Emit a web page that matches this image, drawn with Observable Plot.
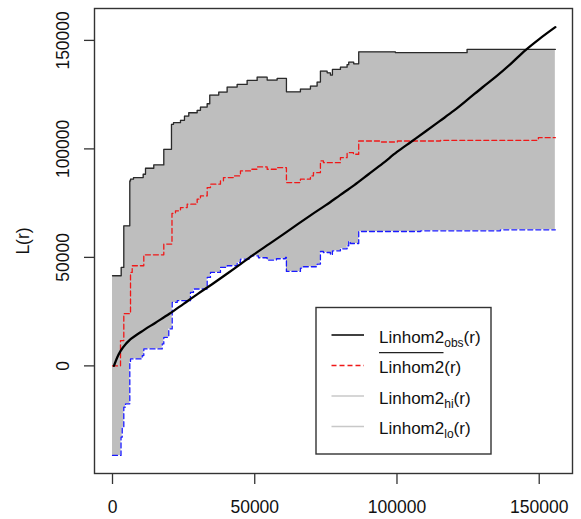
<!DOCTYPE html>
<html><head><meta charset="utf-8">
<script src="https://cdn.jsdelivr.net/npm/d3@7"></script>
<script src="https://cdn.jsdelivr.net/npm/@observablehq/plot@0.6"></script>
<style>
body{margin:0;background:#fff}
#chart{position:relative;width:581px;height:519px;font-family:"Liberation Sans",Arial,sans-serif}
#chart svg{position:absolute;left:0;top:0}
</style>
</head><body><div id="chart"></div>
<script>
// tick labels
const xTicks = [0, 50000, 100000, 150000];
const yTicks = [0, 50000, 100000, 150000];
const rEnd = 155670;

// upper envelope (hi), step function
const hiR = [0, 3060, 3970, 6080, 6330, 7380, 10790, 11600, 14510, 18030, 20730, 21440, 23900, 25300, 26810, 29760, 30920, 33280, 34190, 37350, 40300, 43820, 47330, 50850, 54360, 57880, 61140, 66060, 69580, 71930, 73090, 75450, 76600, 77310, 80120, 82470, 83040, 84790, 86550, 99450, 124650];
const hiV = [41540, 45360, 64540, 85240, 86020, 86760, 88320, 91080, 92600, 99820, 111320, 112060, 113160, 115140, 116660, 117760, 119280, 120800, 124800, 126180, 128480, 129720, 131560, 133080, 131700, 132480, 126320, 127560, 128940, 130780, 135840, 135060, 134000, 136620, 137680, 138830, 139980, 139200, 144720, 144350, 145820];

// mean (Linhom2 bar), step function
const meanR = [0, 2810, 3970, 6330, 6920, 11000, 18030, 20910, 22140, 23900, 26250, 29760, 30920, 33280, 34440, 37950, 39000, 42520, 44980, 48490, 50850, 54360, 57880, 61140, 66060, 69580, 70630, 73090, 74150, 80120, 82470, 84690, 86550, 94180, 100150, 115260, 149700];
const meanV = [0, 11640, 24060, 43060, 46140, 51200, 56120, 70290, 71440, 72960, 74520, 76820, 78340, 82160, 83720, 85240, 86760, 87540, 89840, 90620, 91680, 90620, 91360, 84460, 86020, 87540, 89060, 94440, 93660, 95960, 98260, 97520, 103640, 103180, 103640, 103960, 105160];

// lower envelope (lo), step function
const loR = [0, 2990, 3410, 3970, 4570, 6080, 6330, 10440, 11000, 17470, 18030, 19780, 20980, 22740, 27410, 28460, 33280, 34440, 37950, 40300, 43820, 44980, 48490, 51300, 54360, 57630, 60790, 61140, 66060, 67120, 71930, 73090, 74150, 76600, 77300, 80120, 82470, 83040, 83630, 86550, 108230, 136340];
const loV = [-41260, -32840, -28240, -19040, -17480, 1660, 3220, 4740, 7820, 10120, 13160, 17020, 29260, 30040, 33860, 35420, 40760, 43060, 45360, 46140, 47660, 49220, 50740, 49820, 48760, 49360, 49960, 43520, 45080, 45680, 46920, 52720, 52260, 51200, 53040, 53960, 55340, 57320, 56400, 61920, 62240, 62700];

// observed
const obsR = [500, 1650, 2800, 5000, 10000, 15000, 20000, 25000, 30000, 35000, 40000, 45000, 50000, 55000, 60000, 65000, 70000, 75000, 80000, 85000, 90000, 95000, 100000, 105000, 110000, 115000, 120000, 125000, 130000, 135000, 140000, 145000, 150000, 155670];
const obsV = [0, 3900, 6800, 10600, 15600, 19800, 24000, 28600, 33200, 37600, 42200, 46900, 51600, 56100, 60600, 65200, 69700, 74100, 78700, 83300, 88300, 93300, 98600, 103300, 108000, 112800, 117600, 122900, 128300, 133500, 139200, 145300, 150600, 156100];

function stepAt(R, V, t) {
  let v = V[0];
  for (let i = 0; i < R.length; i++) if (R[i] <= t) v = V[i];
  return v;
}
function series(R, V) {
  const s = R.map((r, i) => ({r, v: V[i]}));
  s.push({r: rEnd, v: V[V.length - 1]});
  return s;
}
const grid = Array.from(new Set([...hiR, ...loR, rEnd])).sort((a, b) => a - b);
const band = grid.map(t => ({r: t, hi: stepAt(hiR, hiV, t), lo: stepAt(loR, loV, t)}));
const hiData = series(hiR, hiV);
const loData = series(loR, loV);
const meanData = series(meanR, meanV);
const obsData = obsR.map((r, i) => ({r, v: obsV[i]}));

const font = '"Liberation Sans", Arial, sans-serif';
const fs = 17.5;
const plot = Plot.plot({
  width: 581, height: 519,
  marginLeft: 94, marginRight: 9, marginTop: 8, marginBottom: 46,
  style: {fontFamily: font, fontSize: fs + "px", background: "#fff", color: "#222"},
  x: {domain: [-6330, 161700]},
  y: {domain: [-49600, 164700]},
  marks: [
    Plot.areaY(band, {x: "r", y1: "lo", y2: "hi", curve: "step-after", fill: "#bebebe"}),
    Plot.line(hiData, {x: "r", y: "v", curve: "step-after", stroke: "#2a2a2a", strokeWidth: 1.3}),
    Plot.line(loData, {x: "r", y: "v", curve: "step-after", stroke: "#1a1aff", strokeWidth: 1.3, strokeDasharray: "5,3"}),
    Plot.line(meanData, {x: "r", y: "v", curve: "step-after", stroke: "#f01818", strokeWidth: 1.3, strokeDasharray: "5,3"}),
    Plot.line(obsData, {x: "r", y: "v", stroke: "#000", strokeWidth: 2.3, curve: "monotone-x"}),
    Plot.frame({stroke: "#333", strokeWidth: 1.4}),
    Plot.axisX({ticks: xTicks, tickSize: 11, tickFormat: () => "", stroke: "#333", strokeWidth: 1.3, label: null}),
    Plot.axisY({ticks: yTicks, tickSize: 10, tickFormat: () => "", stroke: "#333", strokeWidth: 1.3, label: null}),
    Plot.text(xTicks, {x: d => d, text: d => String(d), frameAnchor: "bottom", dy: 34, lineAnchor: "middle", fontSize: fs, fill: "#111"}),
    Plot.text(yTicks, {y: d => d, text: d => String(d), frameAnchor: "left", dx: -31, rotate: -90, textAnchor: "middle", lineAnchor: "middle", fontSize: fs, fill: "#111"}),
    Plot.text(["L(r)"], {text: d => d, frameAnchor: "left", dx: -71, rotate: -90, textAnchor: "middle", lineAnchor: "middle", fontSize: fs, fill: "#111"})
  ]
});
const chart = document.getElementById("chart");
chart.appendChild(plot);

// legend overlay
const legendItems = [
  {name: "Linhom2", sub: "obs", stroke: "#000", dash: null, width: 1.4, bar: false},
  {name: "Linhom2", sub: null, stroke: "#f01818", dash: "5,3", width: 1.3, bar: true},
  {name: "Linhom2", sub: "hi", stroke: "#c8c8c8", dash: null, width: 1.3, bar: false},
  {name: "Linhom2", sub: "lo", stroke: "#c8c8c8", dash: null, width: 1.3, bar: false}
];
const svg = d3.select(chart).append("svg")
  .attr("width", 581).attr("height", 519)
  .style("pointer-events", "none")
  .style("font-family", font);
svg.append("rect").attr("x", 316).attr("y", 307.5).attr("width", 175).attr("height", 146.5)
  .attr("fill", "#fff").attr("stroke", "#333").attr("stroke-width", 1.4);
legendItems.forEach((d, i) => {
  const y = 335 + i * 30.5;
  svg.append("line").attr("x1", 331.5).attr("x2", 364).attr("y1", y).attr("y2", y)
    .attr("stroke", d.stroke).attr("stroke-width", d.width)
    .attr("stroke-dasharray", d.dash);
  const t = svg.append("text").attr("x", 379).attr("y", y + 7.5).attr("font-size", 17).attr("fill", "#111");
  t.append("tspan").text(d.name);
  if (d.sub) {
    t.append("tspan").attr("font-size", 12).attr("dy", 4).text(d.sub);
    t.append("tspan").attr("font-size", 17).attr("dy", -4).text("(r)");
  } else {
    t.append("tspan").text("(r)");
  }
  if (d.bar) {
    svg.append("line").attr("x1", 379).attr("x2", 443.5).attr("y1", y - 12.8).attr("y2", y - 12.8)
      .attr("stroke", "#222").attr("stroke-width", 1.3);
  }
});
</script></body></html>
